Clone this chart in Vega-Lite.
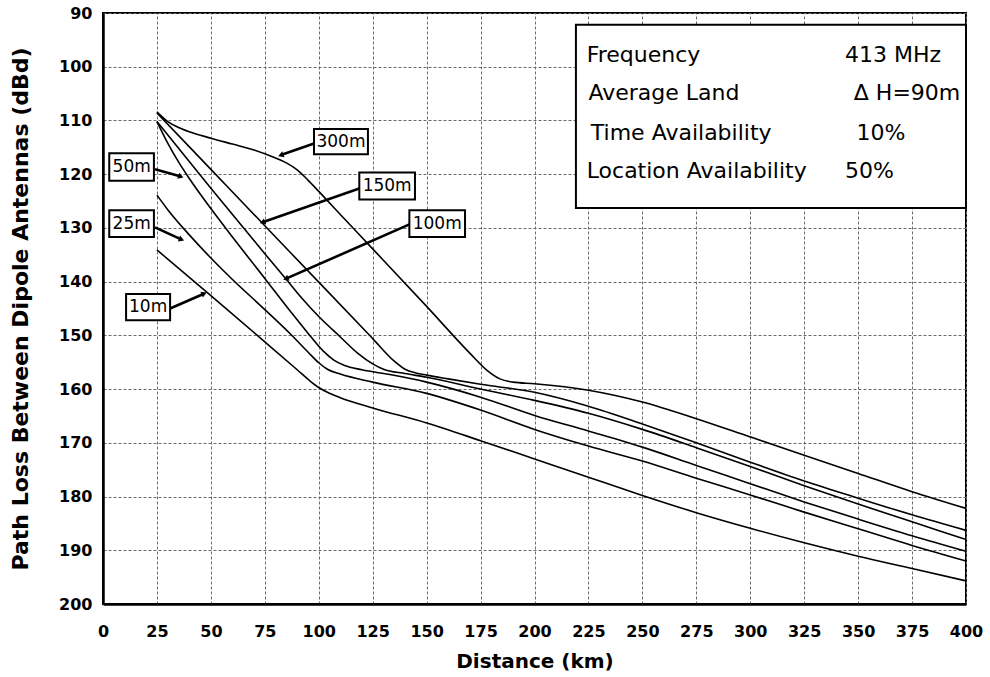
{
  "$schema": "https://vega.github.io/schema/vega-lite/v6.json",
  "width": 863,
  "height": 591,
  "autosize": "none",
  "padding": {"left": 103, "top": 13, "right": 24, "bottom": 73},
  "background": "white",
  "config": {
    "view": {"stroke": "black", "strokeWidth": 2},
    "axis": {
      "grid": true,
      "gridColor": "#6b6b6b",
      "gridDash": [3, 2],
      "gridWidth": 1,
      "gridOpacity": 1,
      "ticks": false,
      "domain": true,
      "domainColor": "black",
      "domainWidth": 2.5,
      "labelFont": "DejaVu Sans",
      "labelFontWeight": "bold",
      "labelFontSize": 16,
      "labelColor": "black",
      "titleFont": "DejaVu Sans",
      "titleFontWeight": "bold",
      "titleColor": "black"
    }
  },
  "datasets": {
    "curves": [
      {"h": "300m", "d": 25, "L": 108.4}, {"h": "300m", "d": 30, "L": 110.2}, {"h": "300m", "d": 35, "L": 111.3}, {"h": "300m", "d": 40, "L": 112.1}, {"h": "300m", "d": 50, "L": 113.3}, {"h": "300m", "d": 60, "L": 114.4}, {"h": "300m", "d": 70, "L": 115.5}, {"h": "300m", "d": 80, "L": 117.0}, {"h": "300m", "d": 85, "L": 117.9}, {"h": "300m", "d": 90, "L": 119.2}, {"h": "300m", "d": 95, "L": 121.1}, {"h": "300m", "d": 100, "L": 123.2}, {"h": "300m", "d": 110, "L": 127.5}, {"h": "300m", "d": 125, "L": 133.9}, {"h": "300m", "d": 150, "L": 144.6}, {"h": "300m", "d": 170, "L": 153.3}, {"h": "300m", "d": 178, "L": 156.5}, {"h": "300m", "d": 184, "L": 158.1}, {"h": "300m", "d": 190, "L": 158.7}, {"h": "300m", "d": 200, "L": 159}, {"h": "300m", "d": 225, "L": 160.2}, {"h": "300m", "d": 250, "L": 162.4}, {"h": "300m", "d": 275, "L": 165.5}, {"h": "300m", "d": 300, "L": 168.9}, {"h": "300m", "d": 325, "L": 172.3}, {"h": "300m", "d": 350, "L": 175.7}, {"h": "300m", "d": 375, "L": 179.1}, {"h": "300m", "d": 400, "L": 182.2},
      {"h": "150m", "d": 25, "L": 108.6}, {"h": "150m", "d": 50, "L": 119.1}, {"h": "150m", "d": 75, "L": 129.6}, {"h": "150m", "d": 100, "L": 140.1}, {"h": "150m", "d": 125, "L": 150.6}, {"h": "150m", "d": 135, "L": 154.8}, {"h": "150m", "d": 140, "L": 156.3}, {"h": "150m", "d": 145, "L": 157.0}, {"h": "150m", "d": 150, "L": 157.4}, {"h": "150m", "d": 160, "L": 158.1}, {"h": "150m", "d": 175, "L": 159.1}, {"h": "150m", "d": 200, "L": 160.6}, {"h": "150m", "d": 225, "L": 163.2}, {"h": "150m", "d": 250, "L": 166.5}, {"h": "150m", "d": 275, "L": 170}, {"h": "150m", "d": 300, "L": 173.6}, {"h": "150m", "d": 325, "L": 177.1}, {"h": "150m", "d": 350, "L": 180.3}, {"h": "150m", "d": 375, "L": 183.4}, {"h": "150m", "d": 400, "L": 186.3},
      {"h": "100m", "d": 25, "L": 110.2}, {"h": "100m", "d": 50, "L": 122.6}, {"h": "100m", "d": 75, "L": 134.8}, {"h": "100m", "d": 85, "L": 139.6}, {"h": "100m", "d": 92, "L": 143}, {"h": "100m", "d": 100, "L": 146.5}, {"h": "100m", "d": 110, "L": 150.3}, {"h": "100m", "d": 118, "L": 153.3}, {"h": "100m", "d": 125, "L": 155.3}, {"h": "100m", "d": 130, "L": 156.3}, {"h": "100m", "d": 140, "L": 157.1}, {"h": "100m", "d": 150, "L": 157.8}, {"h": "100m", "d": 175, "L": 160}, {"h": "100m", "d": 200, "L": 162.1}, {"h": "100m", "d": 225, "L": 164.5}, {"h": "100m", "d": 250, "L": 167.5}, {"h": "100m", "d": 275, "L": 170.9}, {"h": "100m", "d": 300, "L": 174.4}, {"h": "100m", "d": 325, "L": 178}, {"h": "100m", "d": 350, "L": 181.4}, {"h": "100m", "d": 375, "L": 184.7}, {"h": "100m", "d": 400, "L": 188},
      {"h": "50m", "d": 25, "L": 110.2}, {"h": "50m", "d": 30, "L": 114.2}, {"h": "50m", "d": 35, "L": 117.7}, {"h": "50m", "d": 40, "L": 120.8}, {"h": "50m", "d": 50, "L": 126.4}, {"h": "50m", "d": 60, "L": 131.7}, {"h": "50m", "d": 75, "L": 139.4}, {"h": "50m", "d": 87, "L": 145.6}, {"h": "50m", "d": 95, "L": 149.6}, {"h": "50m", "d": 102, "L": 152.9}, {"h": "50m", "d": 107, "L": 154.6}, {"h": "50m", "d": 112, "L": 155.6}, {"h": "50m", "d": 120, "L": 156.4}, {"h": "50m", "d": 133, "L": 157.3}, {"h": "50m", "d": 150, "L": 158.7}, {"h": "50m", "d": 175, "L": 161.5}, {"h": "50m", "d": 200, "L": 164.9}, {"h": "50m", "d": 225, "L": 167.8}, {"h": "50m", "d": 250, "L": 170.8}, {"h": "50m", "d": 275, "L": 174.2}, {"h": "50m", "d": 300, "L": 177.6}, {"h": "50m", "d": 325, "L": 181}, {"h": "50m", "d": 350, "L": 184.2}, {"h": "50m", "d": 375, "L": 187.3}, {"h": "50m", "d": 400, "L": 190.2},
      {"h": "25m", "d": 25, "L": 123.9}, {"h": "25m", "d": 30, "L": 126.6}, {"h": "25m", "d": 40, "L": 131.3}, {"h": "25m", "d": 50, "L": 135.6}, {"h": "25m", "d": 60, "L": 139.6}, {"h": "25m", "d": 75, "L": 145.2}, {"h": "25m", "d": 87, "L": 149.8}, {"h": "25m", "d": 95, "L": 153.1}, {"h": "25m", "d": 100, "L": 155.1}, {"h": "25m", "d": 104, "L": 156.3}, {"h": "25m", "d": 110, "L": 157.2}, {"h": "25m", "d": 125, "L": 158.7}, {"h": "25m", "d": 150, "L": 160.8}, {"h": "25m", "d": 175, "L": 163.9}, {"h": "25m", "d": 200, "L": 167.5}, {"h": "25m", "d": 225, "L": 170.6}, {"h": "25m", "d": 250, "L": 173.4}, {"h": "25m", "d": 275, "L": 176.6}, {"h": "25m", "d": 300, "L": 179.7}, {"h": "25m", "d": 325, "L": 182.9}, {"h": "25m", "d": 350, "L": 186}, {"h": "25m", "d": 375, "L": 189.1}, {"h": "25m", "d": 400, "L": 192},
      {"h": "10m", "d": 25, "L": 134.1}, {"h": "10m", "d": 50, "L": 142.6}, {"h": "10m", "d": 75, "L": 151.2}, {"h": "10m", "d": 90, "L": 156.4}, {"h": "10m", "d": 96, "L": 158.5}, {"h": "10m", "d": 100, "L": 159.7}, {"h": "10m", "d": 104, "L": 160.6}, {"h": "10m", "d": 110, "L": 161.6}, {"h": "10m", "d": 125, "L": 163.5}, {"h": "10m", "d": 150, "L": 166.3}, {"h": "10m", "d": 175, "L": 169.6}, {"h": "10m", "d": 200, "L": 173}, {"h": "10m", "d": 225, "L": 176.4}, {"h": "10m", "d": 250, "L": 179.8}, {"h": "10m", "d": 275, "L": 183}, {"h": "10m", "d": 300, "L": 185.9}, {"h": "10m", "d": 325, "L": 188.6}, {"h": "10m", "d": 350, "L": 191.1}, {"h": "10m", "d": 375, "L": 193.4}, {"h": "10m", "d": 400, "L": 195.7}
    ],
    "labels": [
      {"h": "300m", "d": 97.8, "d2": 122.8, "L": 111.6, "L2": 116.3, "dc": 110.3, "Lc": 114.0},
      {"h": "150m", "d": 118.8, "d2": 144.6, "L": 119.7, "L2": 124.7, "dc": 131.7, "Lc": 122.2},
      {"h": "100m", "d": 142.0, "d2": 167.8, "L": 126.7, "L2": 131.7, "dc": 154.9, "Lc": 129.2},
      {"h": "50m", "d": 2.9, "d2": 23.6, "L": 116.1, "L2": 121.2, "dc": 13.3, "Lc": 118.7},
      {"h": "25m", "d": 2.9, "d2": 23.6, "L": 126.7, "L2": 131.7, "dc": 13.3, "Lc": 129.2},
      {"h": "10m", "d": 10.7, "d2": 31.1, "L": 142.3, "L2": 147.2, "dc": 20.9, "Lc": 144.7}
    ],
    "arrows": [
      {"h": "300m", "part": "tail", "d": 97.8, "L": 114.3}, {"h": "300m", "part": "tip", "d": 82.8, "L": 116.4},
      {"h": "150m", "part": "tail", "d": 119.1, "L": 122.6}, {"h": "150m", "part": "tip", "d": 74.3, "L": 128.9},
      {"h": "100m", "part": "tail", "d": 142.3, "L": 129.3}, {"h": "100m", "part": "tip", "d": 85.1, "L": 139.4},
      {"h": "50m", "part": "tail", "d": 24.1, "L": 119.1}, {"h": "50m", "part": "tip", "d": 35.7, "L": 120.4},
      {"h": "25m", "part": "tail", "d": 24.1, "L": 129.9}, {"h": "25m", "part": "tip", "d": 36.0, "L": 132.1},
      {"h": "10m", "part": "tail", "d": 31.1, "L": 145.0}, {"h": "10m", "part": "tip", "d": 46.5, "L": 142.3}
    ],
    "infobox": [
      {"d": 219.2, "d2": 400, "L": 92.2, "L2": 126.3}
    ],
    "infotext": [
      {"d": 224.2, "L": 99.2, "t": "Frequency"},
      {"d": 225.0, "L": 106.2, "t": "Average Land"},
      {"d": 226.1, "L": 113.65, "t": "Time Availability"},
      {"d": 224.2, "L": 120.8, "t": "Location Availability"},
      {"d": 343.9, "L": 99.2, "t": "413 MHz"},
      {"d": 348.0, "L": 106.2, "t": "Δ H=90m"},
      {"d": 349.3, "L": 113.65, "t": "10%"},
      {"d": 343.9, "L": 120.8, "t": "50%"}
    ]
  },
  "encoding": {
    "x": {
      "field": "d", "type": "quantitative",
      "scale": {"domain": [0, 400], "nice": false, "zero": false},
      "axis": {"values": [0, 25, 50, 75, 100, 125, 150, 175, 200, 225, 250, 275, 300, 325, 350, 375, 400], "title": "Distance (km)", "titleFontSize": 20, "labelPadding": 19, "titlePadding": 12, "labelFlush": false}
    },
    "y": {
      "field": "L", "type": "quantitative",
      "scale": {"domain": [90, 200], "nice": false, "zero": false, "reverse": true},
      "axis": {"values": [90, 100, 110, 120, 130, 140, 150, 160, 170, 180, 190, 200], "title": "Path Loss Between Dipole Antennas (dBd)", "titleFontSize": 22, "labelPadding": 11, "titlePadding": 26, "labelFlush": false}
    }
  },
  "layer": [
    {
      "data": {"name": "curves"},
      "mark": {"type": "line", "color": "black", "strokeWidth": 1.6, "interpolate": "monotone"},
      "encoding": {"detail": {"field": "h"}}
    },
    {
      "data": {"name": "arrows"},
      "mark": {"type": "line", "color": "black", "strokeWidth": 2.6},
      "encoding": {"detail": {"field": "h"}}
    },
    {
      "data": {"name": "arrows"},
      "transform": [{"filter": "datum.part == 'tip' && (datum.h == '300m' || datum.h == '150m' || datum.h == '100m')"}],
      "mark": {"type": "point", "shape": "triangle", "filled": true, "color": "black", "size": 40, "angle": 249, "opacity": 1}
    },
    {
      "data": {"name": "arrows"},
      "transform": [{"filter": "datum.part == 'tip' && (datum.h == '50m' || datum.h == '25m')"}],
      "mark": {"type": "point", "shape": "triangle", "filled": true, "color": "black", "size": 40, "angle": 110, "opacity": 1}
    },
    {
      "data": {"name": "arrows"},
      "transform": [{"filter": "datum.part == 'tip' && datum.h == '10m'"}],
      "mark": {"type": "point", "shape": "triangle", "filled": true, "color": "black", "size": 40, "angle": 67, "opacity": 1}
    },
    {
      "data": {"name": "labels"},
      "mark": {"type": "rect", "fill": "white", "stroke": "black", "strokeWidth": 2},
      "encoding": {"x2": {"field": "d2"}, "y2": {"field": "L2"}}
    },
    {
      "data": {"name": "labels"},
      "mark": {"type": "text", "font": "DejaVu Sans", "fontSize": 17, "color": "black", "align": "center", "baseline": "middle"},
      "encoding": {
        "x": {"field": "dc", "type": "quantitative"},
        "y": {"field": "Lc", "type": "quantitative"},
        "text": {"field": "h"}
      }
    },
    {
      "data": {"name": "infobox"},
      "mark": {"type": "rect", "fill": "white", "stroke": "black", "strokeWidth": 2},
      "encoding": {"x2": {"field": "d2"}, "y2": {"field": "L2"}}
    },
    {
      "data": {"name": "infotext"},
      "mark": {"type": "text", "font": "DejaVu Sans", "fontSize": 22, "color": "black", "align": "left", "baseline": "alphabetic"},
      "encoding": {"text": {"field": "t"}}
    }
  ]
}
